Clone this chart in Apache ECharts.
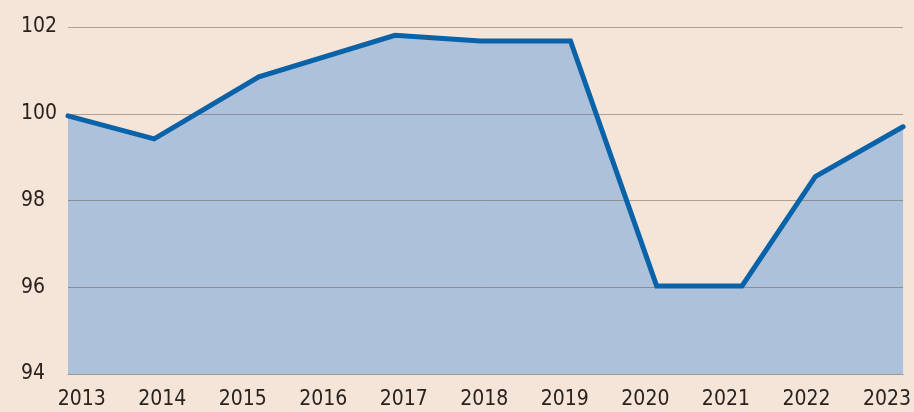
<!DOCTYPE html>
<html>
<head>
<meta charset="utf-8">
<script src="https://cdn.jsdelivr.net/npm/echarts@6/dist/echarts.min.js"></script>
<style>
html,body{margin:0;padding:0;background:#f5e5d9;overflow:hidden;}
#c{width:914px;height:412px;}
</style>
</head>
<body>
<div id="c"></div>
<script>
// Data (x = fractional year of each observation)
const xYears = [2012.83, 2013.90, 2015.20, 2016.89, 2017.95, 2019.07, 2020.14, 2021.20, 2022.11, 2023.20];
const values = [99.95, 99.42, 100.85, 101.81, 101.68, 101.68, 96.03, 96.03, 98.55, 99.70];
const yearLabels = [2013, 2014, 2015, 2016, 2017, 2018, 2019, 2020, 2021, 2022, 2023];
const yTicks = [94, 96, 98, 100, 102];

const pts = xYears.map((x, i) => [x, values[i]]);
const font = '"DejaVu Sans Condensed", "Liberation Sans Narrow", sans-serif';

const chart = echarts.init(document.getElementById('c'), null, {renderer: 'canvas', width: 914, height: 412});
chart.setOption({
  backgroundColor: '#f5e5d9',
  animation: false,
  grid: {left: 68, right: 4, top: 27, bottom: 38},
  xAxis: {
    type: 'value',
    min: xYears[0],
    max: xYears[xYears.length - 1],
    z: 2,
    axisLine: {show: true, lineStyle: {color: '#a3968a', width: 1}},
    axisTick: {show: false},
    splitLine: {show: false},
    axisLabel: {
      customValues: yearLabels,
      formatter: v => String(Math.round(v)),
      color: '#2a221d',
      fontFamily: font,
      fontSize: 21,
      margin: 15
    }
  },
  yAxis: {
    type: 'value',
    min: yTicks[0],
    max: yTicks[yTicks.length - 1],
    interval: 2,
    z: 2,
    axisLine: {show: false},
    axisTick: {show: false},
    splitLine: {show: true, lineStyle: {color: 'rgba(110,90,75,0.5)', width: 1}},
    axisLabel: {
      color: '#2a221d',
      fontFamily: font,
      fontSize: 21,
      align: 'left',
      margin: 47
    }
  },
  series: [
    {
      type: 'line',
      data: pts,
      z: 1,
      symbol: 'none',
      lineStyle: {width: 0, opacity: 0},
      areaStyle: {color: '#adc2da', opacity: 1}
    },
    {
      type: 'line',
      data: pts,
      z: 3,
      symbol: 'none',
      lineStyle: {color: '#0a62a8', width: 5, join: 'miter', cap: 'round'}
    }
  ]
});
</script>
</body>
</html>
